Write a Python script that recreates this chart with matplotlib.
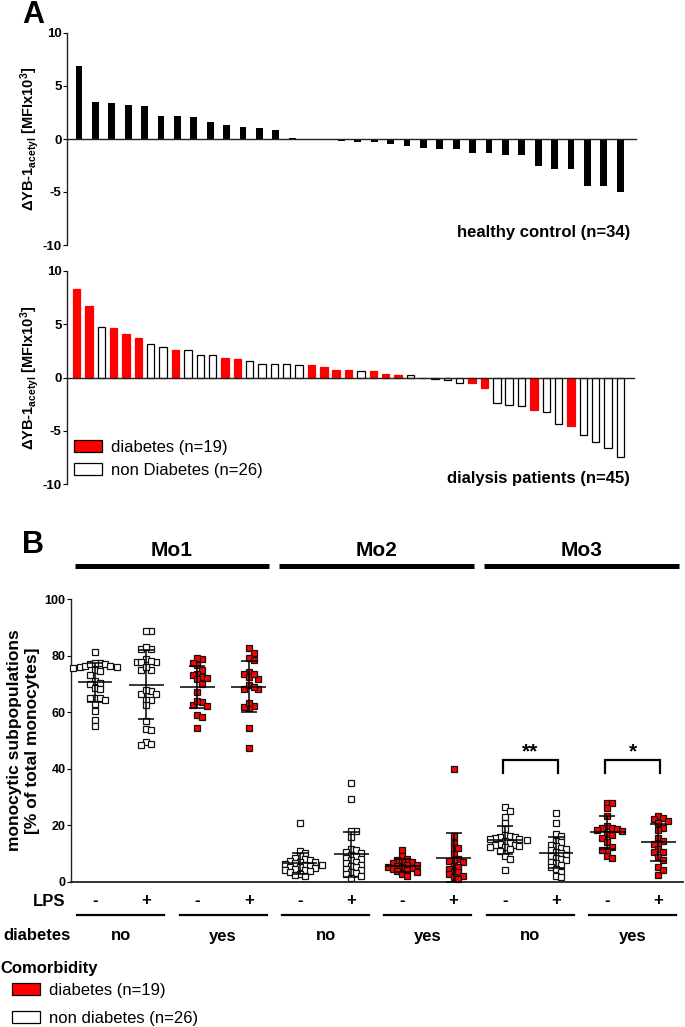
import numpy as np
import matplotlib
matplotlib.use('Agg')
import matplotlib.pyplot as plt
from matplotlib.patches import Patch

plt.rcParams['font.family'] = ['Liberation Sans', 'DejaVu Sans']
plt.rcParams['font.weight'] = 'bold'
plt.rcParams['axes.unicode_minus'] = False
plt.rcParams['mathtext.fontset'] = 'custom'
plt.rcParams['mathtext.rm'] = 'Liberation Sans:bold'
plt.rcParams['mathtext.bf'] = 'Liberation Sans:bold'
plt.rcParams['mathtext.it'] = 'Liberation Sans:bold'

# ---- panel A data (delta YB-1 acetyl, MFI x10^3), sorted as in figure
healthy = [6.86, 3.49, 3.43, 3.24, 3.08, 2.17, 2.14, 2.08, 1.64, 1.29, 1.16, 1.07, 0.82,
           0.05, 0.0, -0.03, -0.15, -0.25, -0.28, -0.5, -0.69, -0.82, -0.91, -0.97,
           -1.29, -1.35, -1.48, -1.5, -2.55, -2.83, -2.86, -4.43, -4.43, -5.03]
dialysis = [8.29, 6.73, 4.77, 4.64, 4.08, 3.74, 3.12, 2.90, 2.55, 2.55, 2.08, 2.06, 1.84,
            1.74, 1.56, 1.31, 1.31, 1.28, 1.18, 1.15, 1.0, 0.69, 0.69, 0.62, 0.62, 0.34,
            0.28, 0.25, 0.0, -0.12, -0.25, -0.5, -0.53, -1.0, -2.37, -2.62, -2.65, -3.02,
            -3.24, -4.33, -4.55, -5.39, -6.04, -6.57, -7.45]
dialysis_diab = [1, 1, 0, 1, 1, 1, 0, 0, 1, 0, 0, 0, 1, 1, 0, 0, 0, 0, 0, 1, 1, 1, 1, 0,
                 1, 1, 1, 0, 0, 0, 0, 0, 1, 1, 0, 0, 0, 1, 0, 0, 1, 0, 0, 0, 0]

# ---- panel B data (% of total monocytes)
mo1_no_m = [81.4, 77.3, 77.0, 76.5, 76.0, 75.5, 76.0, 76.5, 77.0, 77.3, 75.0, 74.5, 73.2,
            71.0, 70.5, 70.0, 68.5, 68.3, 65.2, 65.0, 65.2, 63.0, 64.2, 60.4, 57.2, 55.1]
mo1_no_p = [88.7, 88.7, 79.0, 82.3, 82.3, 83.1, 77.8, 77.8, 77.8, 78.0, 75.0, 75.0, 76.0,
            67.6, 66.6, 66.4, 67.9, 64.4, 64.4, 62.6, 57.0, 53.9, 53.7, 49.5, 48.3, 48.7]
mo1_yes_m = [79.0, 79.2, 76.6, 77.6, 75.0, 73.7, 73.2, 72.4, 71.8, 72.0, 70.0, 67.0, 63.6,
             62.3, 62.5, 64.0, 59.0, 58.3, 54.4]
mo1_yes_p = [82.8, 81.0, 79.2, 78.4, 74.4, 73.4, 71.8, 72.6, 73.6, 68.1, 68.1, 69.6, 69.0,
             62.3, 61.4, 61.7, 63.2, 54.4, 47.4]
mo2_no_m = [20.8, 10.8, 10.0, 9.0, 8.5, 8.0, 7.5, 7.2, 7.0, 6.8, 6.5, 6.2, 6.0, 5.8, 5.5,
            5.3, 5.0, 4.8, 4.5, 4.2, 4.0, 3.6, 3.2, 2.8, 2.4, 1.8]
mo2_no_p = [35.0, 29.1, 18.0, 18.0, 15.9, 11.5, 11.0, 10.5, 10.0, 9.5, 9.0, 8.5, 8.0, 7.5,
            7.0, 6.5, 6.0, 5.5, 5.0, 4.5, 4.0, 3.5, 3.0, 2.5, 2.0, 1.3]
mo2_yes_m = [11.1, 8.9, 8.0, 7.5, 7.0, 6.8, 6.5, 6.0, 5.8, 5.5, 5.2, 5.0, 4.7, 4.4, 4.0,
             3.6, 3.2, 2.5, 2.0]
mo2_yes_p = [39.7, 16.0, 13.8, 11.9, 11.8, 9.6, 7.8, 7.5, 7.2, 7.0, 5.6, 5.2, 4.5, 3.5,
             3.2, 2.5, 1.8, 1.5, 1.0]
mo3_no_m = [26.3, 25.1, 23.0, 20.6, 18.5, 16.4, 16.0, 15.8, 15.6, 15.4, 15.2, 15.0, 14.6,
            14.2, 13.8, 13.4, 13.0, 12.8, 12.6, 12.4, 12.2, 11.6, 10.8, 8.9, 7.9, 4.1]
mo3_no_p = [24.4, 20.6, 16.8, 16.0, 14.5, 14.0, 13.0, 12.5, 12.0, 11.5, 11.0, 10.5, 10.0,
            9.5, 9.0, 8.5, 8.0, 7.5, 7.0, 6.5, 6.0, 5.0, 4.5, 3.5, 1.8, 1.6]
mo3_yes_m = [27.9, 27.7, 25.9, 23.2, 19.7, 19.0, 18.8, 18.5, 18.3, 18.0, 17.0, 16.5, 15.3,
             14.0, 12.3, 11.2, 11.0, 9.0, 8.2]
mo3_yes_p = [23.2, 22.5, 22.1, 21.5, 20.6, 19.0, 18.2, 15.3, 14.5, 13.5, 13.2, 11.5, 10.5,
             10.3, 8.6, 7.7, 5.3, 4.1, 2.2]

groups = [mo1_no_m, mo1_no_p, mo1_yes_m, mo1_yes_p,
          mo2_no_m, mo2_no_p, mo2_yes_m, mo2_yes_p,
          mo3_no_m, mo3_no_p, mo3_yes_m, mo3_yes_p]
group_diab = [0, 0, 1, 1] * 3
lps_labels = ['-', '+'] * 6
diab_labels = ['no', 'yes'] * 3
mo_labels = ['Mo1', 'Mo2', 'Mo3']
sig_pairs = [(8, 9, '**'), (10, 11, '*')]

W, H = 685, 1027
fx = lambda x: x / W
fy = lambda y: 1 - y / H

fig = plt.figure(figsize=(6.85, 10.27), dpi=100)


def style_bar_axes(ax):
    for s in ['top', 'right']:
        ax.spines[s].set_visible(False)
    ax.spines['bottom'].set_position(('data', 0))
    ax.spines['left'].set_linewidth(1.0)
    ax.spines['bottom'].set_linewidth(1.0)
    ax.spines['left'].set_color('#222222')
    ax.spines['bottom'].set_color('#222222')
    ax.set_xticks([])
    ax.set_ylim(-10, 10)
    ax.set_yticks([-10, -5, 0, 5, 10])
    ax.tick_params(axis='y', length=3, width=0.8, labelsize=9.5, pad=1)
    ax.set_ylabel('ΔYB-1$_{acetyl}$ [MFIx10$^{3}$]', fontsize=10.5, fontweight='bold')
    ax.yaxis.set_label_coords(-0.046, 0.5)


# ---- A top: healthy control
ax1 = fig.add_axes([fx(67), fy(245), fx(636 - 67), (245 - 33) / H])
ax1.bar(np.arange(len(healthy)), healthy, width=0.42, color='black')
ax1.set_xlim(-0.73, 33.96)
style_bar_axes(ax1)
fig.text(fx(630), fy(232), 'healthy control (n=34)', fontsize=12,
         fontweight='bold', ha='right', va='center')

# ---- A bottom: dialysis patients
ax2 = fig.add_axes([fx(67), fy(484.3), fx(634 - 67), (484.3 - 270.7) / H])
cols = ['red' if d else 'white' for d in dialysis_diab]
edges = ['red' if d else 'black' for d in dialysis_diab]
ax2.bar(np.arange(len(dialysis)), dialysis, width=0.6, color=cols, edgecolor=edges,
        linewidth=0.9)
ax2.set_xlim(-0.78, 45.1)
style_bar_axes(ax2)
ax2.legend(handles=[Patch(facecolor='red', edgecolor='black', linewidth=0.9),
                    Patch(facecolor='white', edgecolor='black', linewidth=0.9)],
           labels=['diabetes (n=19)', 'non Diabetes (n=26)'],
           loc='lower left', bbox_to_anchor=(0.0, 0.0), frameon=False, borderpad=0.1,
           borderaxespad=0.3, handlelength=1.7, handleheight=0.75, handletextpad=0.55,
           labelspacing=0.45, prop={'size': 12, 'weight': 'normal'})
fig.text(fx(630), fy(478), 'dialysis patients (n=45)', fontsize=12,
         fontweight='bold', ha='right', va='center')


def swarm(vals, dx, dy):
    vals = np.asarray(vals, float)
    order = np.argsort(vals)[::-1]
    xs = np.zeros(len(vals))
    placed = []
    for i in order:
        v = vals[i]
        k = 0
        while True:
            cands = [0.0] if k == 0 else [k * dx * 0.5, -k * dx * 0.5]
            hit = None
            for c in cands:
                if all(abs(c - px) >= dx or abs(v - py) >= dy for px, py in placed):
                    hit = c
                    break
            if hit is not None:
                break
            k += 1
        xs[i] = hit
        placed.append((hit, v))
    return xs


# ---- B scatter
ax3 = fig.add_axes([fx(71), fy(881.5), fx(683 - 71), (881.5 - 599.3) / H])
for s in ['top', 'right']:
    ax3.spines[s].set_visible(False)
ax3.spines['left'].set_linewidth(1.0)
ax3.spines['bottom'].set_linewidth(1.3)
ax3.spines['left'].set_color('#222222')
ax3.spines['bottom'].set_color('#222222')
ax3.set_xlim(-0.47, 11.48)
ax3.set_ylim(0, 100)
ax3.set_xticks([])
ax3.set_yticks([0, 20, 40, 60, 80, 100])
ax3.tick_params(axis='y', length=3, width=0.8, labelsize=9, pad=1)
ax3.set_ylabel('monocytic subpopulations\n[% of total monocytes]', fontsize=12.5,
               fontweight='bold', linespacing=1.2)
ax3.yaxis.set_label_coords(-0.051, 0.5)

for i, vals in enumerate(groups):
    vals = np.asarray(vals)
    off = swarm(vals, 0.095, 1.8)
    face = 'red' if group_diab[i] else 'white'
    ax3.plot(i + off, vals, 's', ms=4.3, mfc=face, mec='#111111', mew=0.9,
             clip_on=False, zorder=3)
    m, sd = vals.mean(), vals.std(ddof=1)
    ax3.hlines(m, i - 0.34, i + 0.34, color='black', lw=1.1, zorder=4)
    ax3.errorbar(i, m, yerr=sd, fmt='none', ecolor='black', elinewidth=1.1,
                 capsize=6, capthick=1.1, zorder=4)

for a, b, star in sig_pairs:
    ax3.plot([a - 0.04, a - 0.04, b + 0.04, b + 0.04], [38.5, 43, 43, 38.5],
             color='black', lw=1.6, solid_joinstyle='miter')
    ax3.text((a + b) / 2, 42.5, star, ha='center', va='bottom', fontsize=15,
             fontweight='bold')

tr = ax3.get_xaxis_transform()
ax_y = lambda y: (881.5 - y) / (881.5 - 599.3)
for i, lab in enumerate(lps_labels):
    ax3.text(i, ax_y(901), lab, transform=tr, ha='center', va='center', fontsize=12,
             fontweight='bold')
for j, lab in enumerate(diab_labels):
    c = 2 * j + 0.5
    ax3.plot([c - 0.85, c + 0.85], [ax_y(915)] * 2, transform=tr, color='black',
             lw=1.6, clip_on=False)
    ax3.text(c, ax_y(936), lab, transform=tr, ha='center', va='center', fontsize=12,
             fontweight='bold')
for j, lab in enumerate(mo_labels):
    c = 4 * j + 1.5
    ax3.plot([c - 1.9, c + 1.9], [ax_y(566)] * 2, transform=tr, color='black',
             lw=3.6, clip_on=False, solid_capstyle='butt')
    ax3.text(c, ax_y(550), lab, transform=tr, ha='center', va='center', fontsize=15,
             fontweight='bold')

fig.text(fx(65), fy(901), 'LPS', ha='right', va='center', fontsize=12, fontweight='bold')
fig.text(fx(3), fy(936), 'diabetes', ha='left', va='center', fontsize=12,
         fontweight='bold')
fig.text(fx(0), fy(968), 'Comorbidity', ha='left', va='center', fontsize=12,
         fontweight='bold')
fig.legend(handles=[Patch(facecolor='red', edgecolor='black', linewidth=0.9),
                    Patch(facecolor='white', edgecolor='black', linewidth=0.9)],
           labels=['diabetes (n=19)', 'non diabetes (n=26)'],
           loc='upper left', bbox_to_anchor=(fx(10), fy(981)), frameon=False,
           borderpad=0.1, borderaxespad=0.0, handlelength=1.7, handleheight=0.75,
           handletextpad=0.55, labelspacing=0.8, prop={'size': 12, 'weight': 'normal'})

fig.text(fx(22), fy(23), 'A', fontsize=22, fontweight='bold', ha='left', va='baseline')
fig.text(fx(22), fy(553), 'B', fontsize=22, fontweight='bold', ha='left', va='baseline')

fig.savefig('out.png', dpi=100)
